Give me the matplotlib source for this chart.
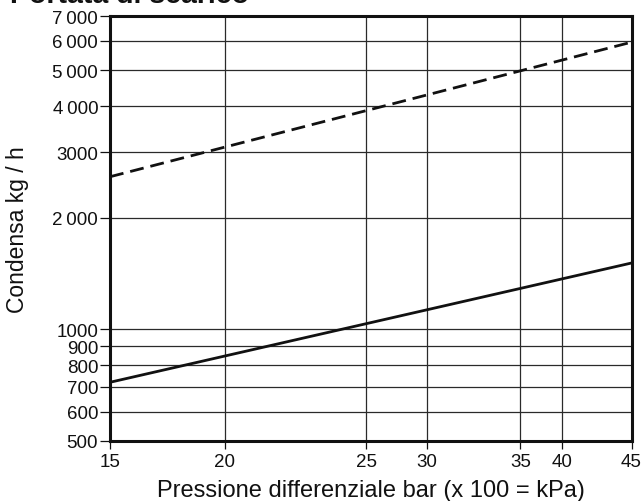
import numpy as np
import matplotlib
matplotlib.use("Agg")
import matplotlib.pyplot as plt

plt.rcParams['font.family'] = ['Liberation Sans', 'DejaVu Sans']

# pressione (bar) agli estremi del diagramma
press = [15, 45]
# condensa kg/h
cond_dashed = [2580, 5950]
cond_solid = [720, 1510]

x_ticks = [15, 20, 25, 30, 35, 40, 45]
# posizione relativa delle linee verticali (scala non regolare del diagramma originale)
x_tick_frac = [0.0, 0.2205, 0.4909, 0.6084, 0.7868, 0.8673, 1.0]

y_ticks = [500, 600, 700, 800, 900, 1000, 2000, 3000, 4000, 5000, 6000, 7000]
y_labels = ["500", "600", "700", "800", "900", "1000", "2\u2009000", "3000",
            "4\u2009000", "5\u2009000", "6\u2009000", "7\u2009000"]


def fwd(x):
    return np.interp(x, x_ticks, x_tick_frac)


def inv(f):
    return np.interp(f, x_tick_frac, x_ticks)


fig = plt.figure(figsize=(6.41, 5.02), dpi=100)
ax = fig.add_axes([110/641, 1-442/502, 521.5/641, 425/502])

ax.set_xscale('function', functions=(fwd, inv))
ax.set_yscale('log')
ax.set_xlim(15, 45)
ax.set_ylim(500, 7000)

ax.set_xticks(x_ticks)
ax.set_xticklabels([str(t) for t in x_ticks])
ax.set_yticks(y_ticks)
ax.set_yticklabels(y_labels)
ax.xaxis.set_minor_locator(matplotlib.ticker.NullLocator())
ax.yaxis.set_minor_locator(matplotlib.ticker.NullLocator())

ax.grid(True, color='#2a2a2a', linewidth=0.9)
ax.set_axisbelow(True)

ax.plot(press, cond_dashed, color='#111111', linewidth=2.0, linestyle=(0, (5, 2.5)))
ax.plot(press, cond_solid, color='#111111', linewidth=2.0)

for s in ax.spines.values():
    s.set_linewidth(2.2)
    s.set_color('#111111')

ax.tick_params(axis='y', direction='out', length=7, width=0.9, pad=1.5,
               labelsize=13.5, colors='#111111')
ax.tick_params(axis='x', direction='out', length=6, width=0.9, pad=3,
               labelsize=13.5, colors='#111111')

ax.set_xlabel("Pressione differenziale bar (x 100 = kPa)", fontsize=17,
              color='#111111', labelpad=6)
ax.set_ylabel("Condensa kg / h", fontsize=16.5, color='#111111', labelpad=17)

fig.text(10/641, 1-3/502, "Portata di scarico", fontsize=20.5, fontweight='bold',
         va='baseline', ha='left', color='#111111')

fig.savefig("out.png", dpi=100)
